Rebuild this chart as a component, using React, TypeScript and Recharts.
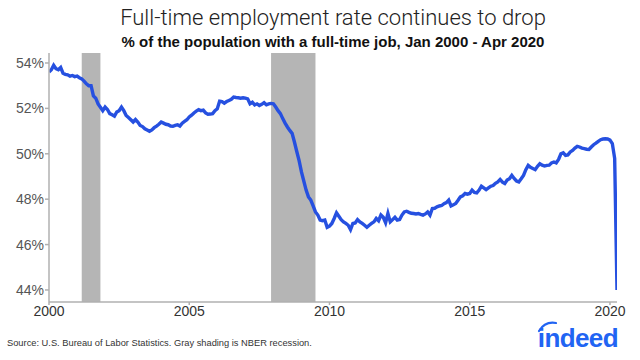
import React from "react";
import {
  LineChart,
  Line,
  XAxis,
  YAxis,
  ReferenceArea,
} from "recharts";

// monthly full-time employment rate (% of population), Jan..Dec
const rate2000 = [53.6, 53.7, 53.9, 53.75, 53.7, 53.8, 53.55, 53.5, 53.48, 53.42, 53.45, 53.4];
const rate2001 = [53.42, 53.35, 53.3, 53.2, 53.08, 53.0, 53.0, 52.55, 52.45, 52.2, 52.05, 51.9];
const rate2002 = [52.06, 51.95, 51.77, 51.72, 51.66, 51.84, 51.9, 52.06, 51.9, 51.69, 51.6, 51.5];
const rate2003 = [51.4, 51.51, 51.4, 51.25, 51.2, 51.1, 51.05, 50.99, 51.05, 51.15, 51.22, 51.3];
const rate2004 = [51.4, 51.35, 51.3, 51.28, 51.22, 51.21, 51.25, 51.28, 51.22, 51.35, 51.43, 51.5];
const rate2005 = [51.62, 51.7, 51.8, 51.88, 51.94, 51.9, 51.92, 51.8, 51.74, 51.75, 51.77, 51.9];
const rate2006 = [51.98, 52.32, 52.3, 52.23, 52.3, 52.35, 52.4, 52.5, 52.48, 52.47, 52.45, 52.47];
const rate2007 = [52.45, 52.42, 52.2, 52.27, 52.15, 52.2, 52.13, 52.18, 52.25, 52.16, 52.2, 52.22];
const rate2008 = [52.2, 52.06, 51.9, 51.77, 51.55, 51.35, 51.18, 51.03, 50.9, 50.52, 50.1, 49.7];
const rate2009 = [49.2, 48.8, 48.4, 48.1, 47.96, 47.7, 47.44, 47.3, 47.08, 47.05, 47.08, 46.76];
const rate2010 = [46.81, 46.93, 47.15, 47.4, 47.25, 47.1, 47.0, 46.93, 46.85, 46.66, 46.93, 46.95];
const rate2011 = [47.1, 47.0, 46.93, 46.85, 46.76, 46.85, 46.93, 47.0, 47.15, 47.05, 47.3, 47.2];
const rate2012 = [46.96, 47.37, 47.0, 47.1, 47.2, 47.08, 47.1, 47.3, 47.44, 47.47, 47.42, 47.38];
const rate2013 = [47.37, 47.35, 47.37, 47.33, 47.3, 47.35, 47.44, 47.3, 47.59, 47.6, 47.66, 47.7];
const rate2014 = [47.72, 47.8, 47.85, 47.96, 47.7, 47.75, 47.81, 47.95, 48.1, 48.15, 48.25, 48.22];
const rate2015 = [48.25, 48.4, 48.3, 48.28, 48.4, 48.57, 48.5, 48.42, 48.5, 48.57, 48.6, 48.7];
const rate2016 = [48.76, 48.87, 48.75, 48.69, 48.84, 48.9, 49.05, 48.91, 48.8, 48.76, 48.9, 49.05];
const rate2017 = [49.3, 49.49, 49.4, 49.35, 49.3, 49.45, 49.56, 49.5, 49.46, 49.49, 49.5, 49.6];
const rate2018 = [49.64, 49.6, 49.75, 50.0, 50.04, 49.93, 49.95, 50.08, 50.15, 50.25, 50.33, 50.3];
const rate2019 = [50.25, 50.23, 50.2, 50.19, 50.3, 50.4, 50.47, 50.55, 50.62, 50.65, 50.66, 50.65];
const rate2020 = [50.6, 50.45, 49.8, 44.0];

const years = [
  rate2000, rate2001, rate2002, rate2003, rate2004, rate2005, rate2006,
  rate2007, rate2008, rate2009, rate2010, rate2011, rate2012, rate2013,
  rate2014, rate2015, rate2016, rate2017, rate2018, rate2019, rate2020,
];

// NBER recessions as fractional years
const recessions = [
  { start: 2001.167, end: 2001.833 },
  { start: 2007.917, end: 2009.5 },
];

const xTicks = [2000, 2005, 2010, 2015, 2020];
const yTicks = [44, 46, 48, 50, 52, 54];

const data = years.flatMap((vals, yi) =>
  vals.map((v, m) => ({ t: 2000 + yi + m / 12, rate: v }))
);

const font = "'Liberation Sans', Arial, Helvetica, sans-serif";

export default function App() {
  return (
    <div
      style={{
        position: "absolute",
        left: 0,
        top: 0,
        width: 640,
        height: 360,
        background: "#fff",
        fontFamily: font,
      }}
    >
      <div
        style={{
          position: "absolute",
          top: 5,
          width: 640,
          textAlign: "center",
          paddingLeft: 26,
          boxSizing: "border-box",
          fontSize: 22,
          fontWeight: 300,
          fontFamily: "Roboto, 'Liberation Sans', sans-serif",
          color: "#222",
        }}
      >
        Full-time employment rate continues to drop
      </div>
      <div
        style={{
          position: "absolute",
          top: 33,
          width: 640,
          textAlign: "center",
          paddingLeft: 26,
          boxSizing: "border-box",
          fontSize: 15,
          fontWeight: "bold",
          color: "#111",
        }}
      >
        % of the population with a full-time job, Jan 2000 - Apr 2020
      </div>
      <LineChart
        width={640}
        height={360}
        data={data}
        margin={{ top: 53, right: 23, bottom: 30, left: 0 }}
      >
        {recessions.map((r, i) => (
          <ReferenceArea
            key={i}
            x1={r.start}
            x2={r.end}
            y1={43.47}
            y2={54.44}
            fill="#b5b5b5"
            fillOpacity={1}
            stroke="none"
            ifOverflow="hidden"
          />
        ))}
        <XAxis
          dataKey="t"
          type="number"
          domain={[2000, 2020.25]}
          ticks={xTicks}
          height={28}
          tickSize={3}
          tickMargin={1}
          stroke="#b0b0b0"
          strokeWidth={1.5}
          tick={{ fill: "#333", fontSize: 14, fontFamily: font }}
          allowDataOverflow
        />
        <YAxis
          type="number"
          domain={[43.47, 54.44]}
          ticks={yTicks}
          width={49}
          tickSize={4}
          tickMargin={1}
          stroke="#b0b0b0"
          strokeWidth={1.5}
          tickFormatter={(v: number) => `${v}%`}
          tick={{ fill: "#555", fontSize: 14, fontFamily: font }}
          allowDataOverflow
        />
        <Line
          type="linear"
          dataKey="rate"
          stroke="#2650e0"
          strokeWidth={3.4}
          dot={false}
          isAnimationActive={false}
        />
      </LineChart>
      <div
        style={{
          position: "absolute",
          left: 7,
          top: 338,
          fontSize: 9.3,
          color: "#333",
        }}
      >
        Source: U.S. Bureau of Labor Statistics. Gray shading is NBER recession.
      </div>
      <svg
        style={{ position: "absolute", left: 530, top: 318 }}
        width={100}
        height={36}
      >
        <path
          d="M 9 13 Q 15 3 26 5"
          stroke="#2164f3"
          strokeWidth={2.2}
          fill="none"
          strokeLinecap="round"
        />
        <text
          x={88}
          y={29}
          textAnchor="end"
          fontSize={26}
          fontWeight="bold"
          fontFamily={font}
          fill="#2164f3"
          letterSpacing={-0.6}
        >
          indeed
        </text>
      </svg>
    </div>
  );
}
